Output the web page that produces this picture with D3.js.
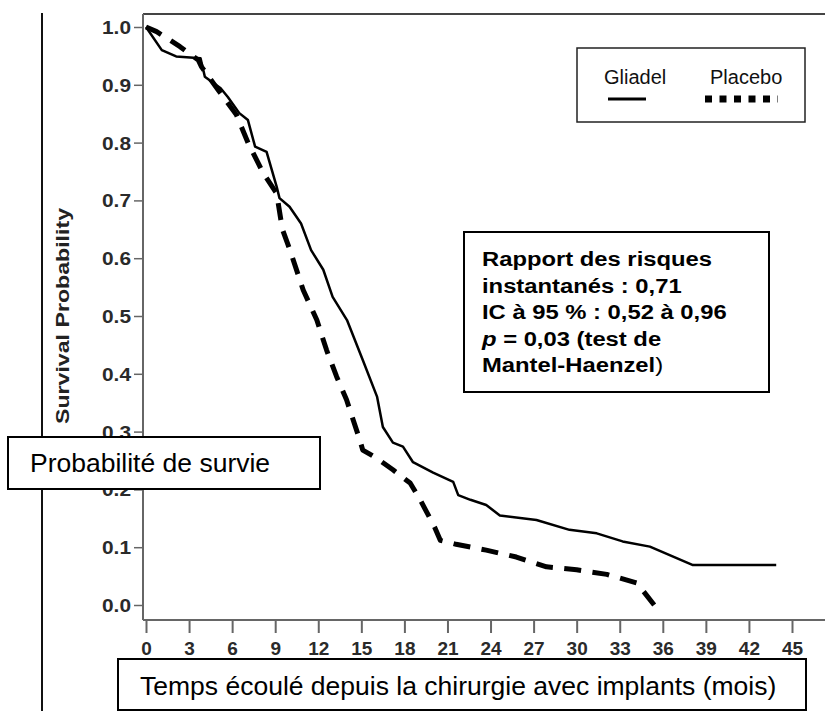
<!DOCTYPE html>
<html>
<head>
<meta charset="utf-8">
<script src="https://cdn.jsdelivr.net/npm/d3@7"></script>
<style>
  html, body { margin: 0; padding: 0; background: #fff; }
  svg { display: block; font-family: "Liberation Sans", Arial, Helvetica, sans-serif; }
</style>
</head>
<body>
<svg id="chart" width="825" height="711"></svg>
<script>
// ---- data ----
const xTicks = [0, 3, 6, 9, 12, 15, 18, 21, 24, 27, 30, 33, 36, 39, 42, 45];
const yTicks = [0.0, 0.1, 0.2, 0.3, 0.4, 0.5, 0.6, 0.7, 0.8, 0.9, 1.0];
const seriesNames = ["Gliadel", "Placebo"];

const gliadelMonths = [0, 1.1, 2.1, 3.8, 4.1, 4.6, 5.2, 5.7, 6.5, 7.1, 7.6, 8.4, 9.1, 9.3, 10.0, 10.8, 11.5, 12.35, 13.0, 14.0, 15.1, 16.1, 16.5, 17.2, 17.9, 18.6, 20.0, 21.4, 21.75, 22.6, 23.7, 24.65, 27.2, 29.5, 31.4, 33.2, 35.1, 38.1, 43.9];
const gliadelSurv   = [1.0, 0.96, 0.949, 0.946, 0.914, 0.905, 0.894, 0.879, 0.851, 0.839, 0.793, 0.784, 0.724, 0.704, 0.689, 0.66, 0.614, 0.58, 0.533, 0.493, 0.424, 0.36, 0.308, 0.281, 0.274, 0.247, 0.229, 0.213, 0.19, 0.182, 0.173, 0.155, 0.147, 0.13, 0.124, 0.11, 0.101, 0.069, 0.069];

const placeboMonths = [0, 0.74, 2.37, 3.64, 3.87, 5.03, 6.3, 7.12, 8.17, 9.1, 9.5, 10.03, 10.95, 11.9, 12.58, 13.28, 13.97, 14.9, 15.1, 16.07, 17.2, 18.4, 19.1, 20.1, 20.5, 21.6, 23.7, 25.8, 27.9, 30.0, 32.1, 34.2, 35.4];
const placeboSurv   = [1.0, 0.992, 0.966, 0.943, 0.931, 0.891, 0.848, 0.799, 0.747, 0.712, 0.65, 0.614, 0.545, 0.493, 0.441, 0.395, 0.355, 0.285, 0.268, 0.254, 0.234, 0.211, 0.182, 0.135, 0.112, 0.105, 0.095, 0.083, 0.066, 0.061, 0.053, 0.038, 0.0];

const yAxisTitle = "Survival Probability";
const frLabelY = "Probabilité de survie";
const frLabelX = "Temps écoulé depuis la chirurgie avec implants (mois)";
const statLines = ["Rapport des risques", "instantanés : 0,71", "IC à 95 % : 0,52 à 0,96"];

// ---- scales ----
const svg = d3.select("#chart");
const x = d3.scaleLinear().domain([0, 45]).range([146, 792]);
const y = d3.scaleLinear().domain([0, 1]).range([605, 27]);

const axisColor = "#666";
const axisX0 = 143, axisYBottom = 620;

// left border line (page artifact)
svg.append("line").attr("x1", 42).attr("x2", 42).attr("y1", 13).attr("y2", 711)
  .attr("stroke", "#111").attr("stroke-width", 2);

// frame top
svg.append("line").attr("x1", axisX0).attr("x2", 825).attr("y1", 14).attr("y2", 14)
  .attr("stroke", "#444").attr("stroke-width", 2);

// y axis
const yAxis = d3.axisLeft(y).tickValues(yTicks).tickFormat(d3.format(".1f")).tickSize(9).tickPadding(3);
const gy = svg.append("g").attr("transform", `translate(${axisX0},0)`).call(yAxis);
gy.select(".domain").remove();
gy.selectAll(".tick line").attr("stroke", axisColor).attr("stroke-width", 1.5);
gy.selectAll(".tick text").attr("fill", "#2a2a2a").attr("font-size", 18).attr("font-weight", "bold")
  .attr("font-family", '"Liberation Sans", Arial, sans-serif')
  .attr("textLength", 29).attr("lengthAdjust", "spacingAndGlyphs").attr("dy", "0.36em");
svg.append("line").attr("x1", axisX0).attr("x2", axisX0).attr("y1", 14).attr("y2", axisYBottom)
  .attr("stroke", axisColor).attr("stroke-width", 2);

// x axis
const xAxis = d3.axisBottom(x).tickValues(xTicks).tickFormat(d3.format("d")).tickSize(13).tickPadding(9);
const gx = svg.append("g").attr("transform", `translate(0,${axisYBottom})`).call(xAxis);
gx.select(".domain").remove();
gx.selectAll(".tick line").attr("stroke", axisColor).attr("stroke-width", 2);
gx.selectAll(".tick text").attr("fill", "#2a2a2a").attr("font-size", 19).attr("font-weight", "bold")
  .attr("font-family", '"Liberation Sans", Arial, sans-serif');
svg.append("line").attr("x1", axisX0).attr("x2", 825).attr("y1", axisYBottom).attr("y2", axisYBottom)
  .attr("stroke", axisColor).attr("stroke-width", 2);

// y axis title
svg.append("text")
  .attr("transform", `translate(69,${(y(0) + y(1)) / 2}) rotate(-90)`)
  .attr("text-anchor", "middle")
  .attr("font-size", 18).attr("font-weight", "bold").attr("fill", "#222")
  .attr("textLength", 216).attr("lengthAdjust", "spacingAndGlyphs")
  .text(yAxisTitle);

// curves
const line = d3.line().x(d => x(d[0])).y(d => y(d[1]));
const gliadelData = gliadelMonths.map((m, i) => [m, gliadelSurv[i]]);
const placeboData = placeboMonths.map((m, i) => [m, placeboSurv[i]]);

const pPath = svg.append("path").datum(placeboData).attr("d", line)
  .attr("fill", "none").attr("stroke", "#000").attr("stroke-width", 5)
  .attr("stroke-linejoin", "round");
// fit dash pattern so the path both starts and ends with a dash
{
  const L = pPath.node().getTotalLength();
  const dash = 17;
  const n = Math.round((L - dash) / 28);
  const gap = (L - dash) / n - dash;
  pPath.attr("stroke-dasharray", `${dash},${gap.toFixed(3)}`);
}
svg.append("path").datum(gliadelData).attr("d", line)
  .attr("fill", "none").attr("stroke", "#000").attr("stroke-width", 2.5)
  .attr("stroke-linejoin", "round");

// legend
const lg = svg.append("g");
lg.append("rect").attr("x", 577).attr("y", 48).attr("width", 228).attr("height", 74)
  .attr("fill", "#fff").attr("stroke", "#222").attr("stroke-width", 1.5);
lg.append("text").attr("x", 604).attr("y", 84).attr("font-size", 20).attr("fill", "#111").text(seriesNames[0]);
lg.append("text").attr("x", 710).attr("y", 84).attr("font-size", 20).attr("fill", "#111").text(seriesNames[1]);
lg.append("line").attr("x1", 608).attr("x2", 646).attr("y1", 99).attr("y2", 99)
  .attr("stroke", "#000").attr("stroke-width", 3);
lg.append("line").attr("x1", 705).attr("x2", 778).attr("y1", 99).attr("y2", 99)
  .attr("stroke", "#000").attr("stroke-width", 7).attr("stroke-dasharray", "7,7.5");

// stats box
svg.append("rect").attr("x", 464).attr("y", 232).attr("width", 305).attr("height", 160)
  .attr("fill", "#fff").attr("stroke", "#000").attr("stroke-width", 2);
const st = svg.append("g").attr("transform", "translate(482,0) scale(1.19,1)");
const baselines = [266, 292.7, 319.3, 346, 372];
statLines.forEach((t, i) => {
  st.append("text").attr("x", 0).attr("y", baselines[i]).attr("font-size", 20)
    .attr("font-weight", "bold").attr("fill", "#000").text(t);
});
const l4 = st.append("text").attr("x", 0).attr("y", baselines[3]).attr("font-size", 20)
  .attr("font-weight", "bold").attr("fill", "#000");
l4.append("tspan").attr("font-style", "italic").text("p");
l4.append("tspan").text(" = 0,03 (test de");
const l5 = st.append("text").attr("x", 0).attr("y", baselines[4]).attr("font-size", 20)
  .attr("fill", "#000");
l5.append("tspan").attr("font-weight", "bold").text("Mantel-Haenzel");
l5.append("tspan").text(")");

// French y label box
svg.append("rect").attr("x", 8).attr("y", 437).attr("width", 312).attr("height", 52)
  .attr("fill", "#fff").attr("stroke", "#000").attr("stroke-width", 2);
svg.append("text").attr("x", 30).attr("y", 472).attr("font-size", 26.5).attr("fill", "#000")
  .text(frLabelY);

// French x label box
svg.append("rect").attr("x", 118).attr("y", 659).attr("width", 688).attr("height", 51)
  .attr("fill", "#fff").attr("stroke", "#000").attr("stroke-width", 2);
svg.append("text").attr("x", 140).attr("y", 695).attr("font-size", 26.5).attr("fill", "#000")
  .text(frLabelX);
</script>
</body>
</html>
